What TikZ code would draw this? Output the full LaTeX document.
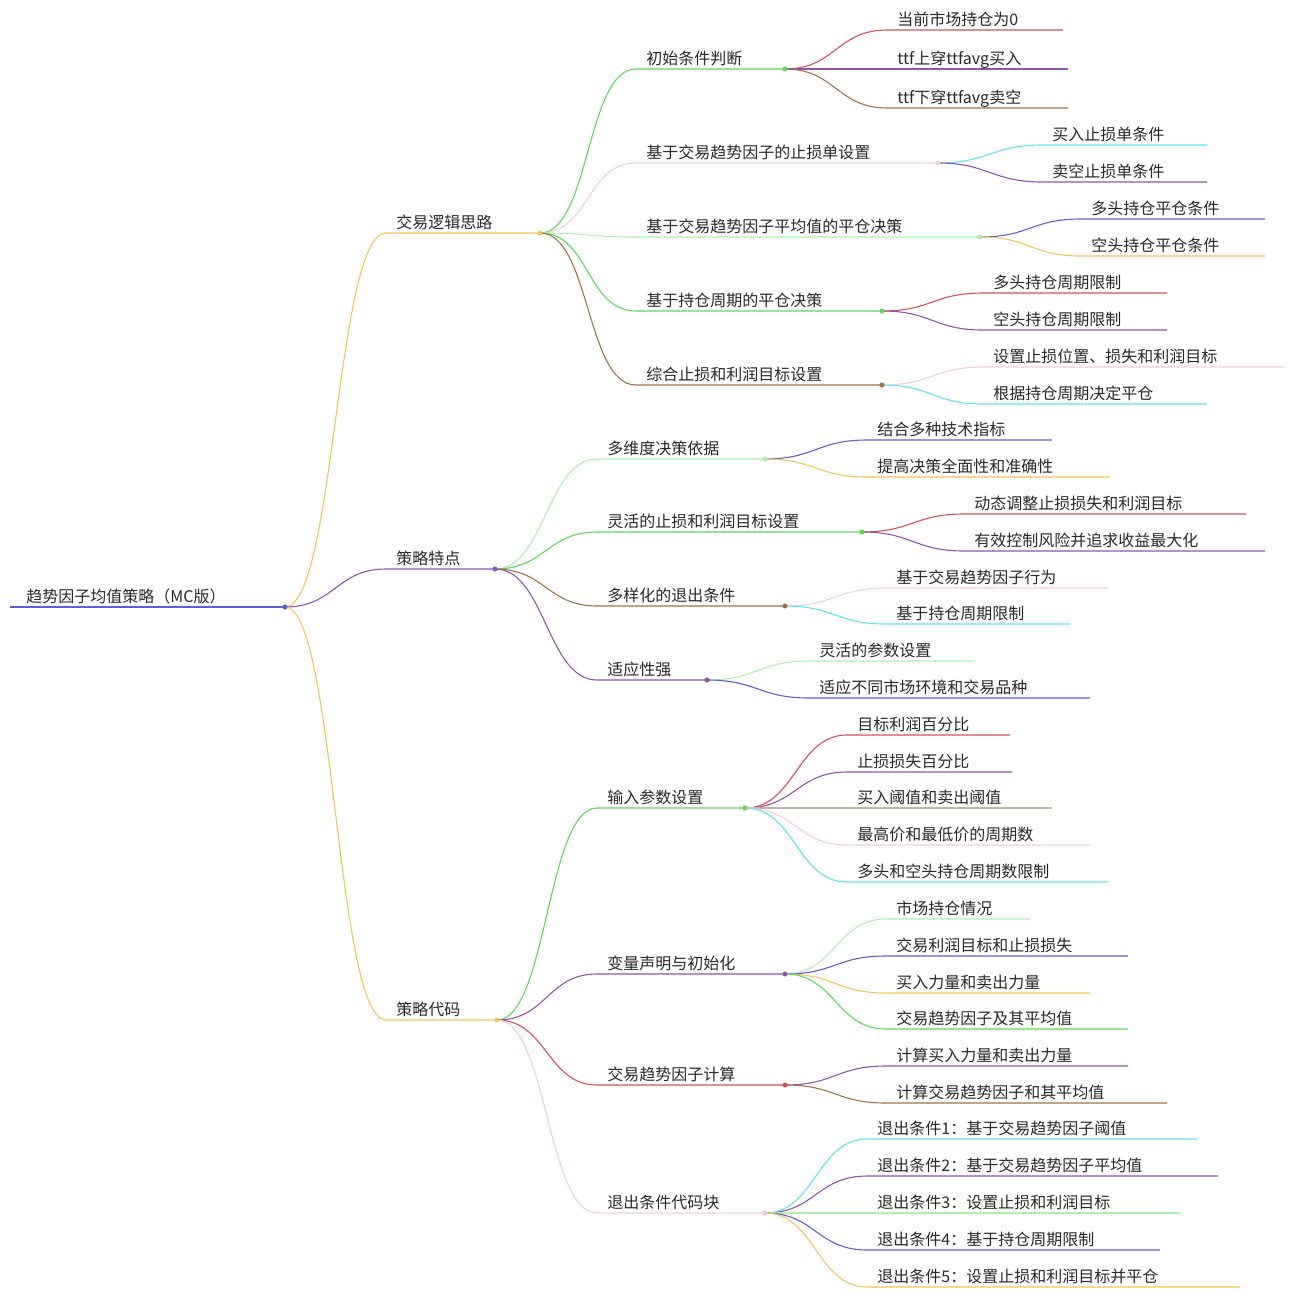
\documentclass[tikz,border=0pt]{standalone}
\usepackage{fontspec}
\setmainfont{Noto Sans CJK SC}
\usetikzlibrary{arrows.meta}

\definecolor{mmtextc}{RGB}{40,40,40}
\definecolor{mmblue}{RGB}{95,95,205}
\definecolor{mmorange}{RGB}{245,195,90}
\definecolor{mmpurple}{RGB}{145,85,175}
\definecolor{mmgreen}{RGB}{90,220,90}
\definecolor{mmpink}{RGB}{245,205,220}
\definecolor{mmlgreen}{RGB}{175,240,175}
\definecolor{mmbrown}{RGB}{165,115,65}
\definecolor{mmtan}{RGB}{200,180,160}
\definecolor{mmred}{RGB}{215,80,90}
\definecolor{mmcyan}{RGB}{90,230,240}

\tikzset{mmtext/.style = {anchor = base west, inner sep = 0pt, text = mmtextc, font = \fontsize{8}{10}\selectfont}}
\tikzset{mmline/.style = {line width = 0.55pt}}
\tikzset{mmdot/.style = {fill = white, line width = 0.3pt}}

% name, parent, text x, line y, line end x, colour, label
\newcommand{\mmitem}[7]{%
  \coordinate (#1s) at ({#3-10},#4);
  \coordinate (#1e) at (#5,#4);
  \node[mmtext] (#1) at (#3,{#4-5}) {#7};
  \draw[mmline,#6] (#2e) .. controls +(50,0) and +(-50,0) .. (#1s) -- (#1e);
}

\begin{document}
\begin{tikzpicture}[x = 0.5pt, y = -0.5pt]
  \useasboundingbox (0,0) rectangle (1296,1296);

  % root
  \coordinate (roots) at (10,607);
  \coordinate (roote) at (285,607);
  \node[mmtext] (root) at (26,602) {趋势因子均值策略（MC版）};
  \draw[mmline,mmblue] (roots) -- (roote);

  % level 1
  \mmitem{a}{root}{396}{233}{540}{mmorange}{交易逻辑思路}
  \mmitem{b}{root}{396}{569}{495}{mmpurple}{策略特点}
  \mmitem{c}{root}{396}{1020}{497}{mmorange}{策略代码}

  % 交易逻辑思路
  \mmitem{a1}{a}{646}{69}{785}{mmgreen}{初始条件判断}
  \mmitem{a2}{a}{646}{163}{938}{mmpink}{基于交易趋势因子的止损单设置}
  \mmitem{a3}{a}{646}{237}{980}{mmlgreen}{基于交易趋势因子平均值的平仓决策}
  \mmitem{a4}{a}{646}{311}{882}{mmgreen}{基于持仓周期的平仓决策}
  \mmitem{a5}{a}{646}{385}{882}{mmbrown}{综合止损和利润目标设置}

  \mmitem{a11}{a1}{897}{30}{1063}{mmred}{当前市场持仓为0}
  \mmitem{a12}{a1}{897}{69}{1068}{mmpurple}{ttf上穿ttfavg买入}
  \mmitem{a13}{a1}{897}{108}{1068}{mmbrown}{ttf下穿ttfavg卖空}
  \mmitem{a21}{a2}{1052}{145}{1207}{mmcyan}{买入止损单条件}
  \mmitem{a22}{a2}{1052}{182}{1207}{mmpurple}{卖空止损单条件}
  \mmitem{a31}{a3}{1091}{219}{1265}{mmblue}{多头持仓平仓条件}
  \mmitem{a32}{a3}{1091}{256}{1265}{mmorange}{空头持仓平仓条件}
  \mmitem{a41}{a4}{993}{293}{1167}{mmred}{多头持仓周期限制}
  \mmitem{a42}{a4}{993}{330}{1167}{mmpurple}{空头持仓周期限制}
  \mmitem{a51}{a5}{993}{367}{1285}{mmpink}{设置止损位置、损失和利润目标}
  \mmitem{a52}{a5}{993}{404}{1207}{mmcyan}{根据持仓周期决定平仓}

  % 策略特点
  \mmitem{b1}{b}{607}{459}{765}{mmlgreen}{多维度决策依据}
  \mmitem{b2}{b}{607}{532}{862}{mmgreen}{灵活的止损和利润目标设置}
  \mmitem{b3}{b}{607}{606}{785}{mmbrown}{多样化的退出条件}
  \mmitem{b4}{b}{607}{680}{707}{mmpurple}{适应性强}

  \mmitem{b11}{b1}{877}{440}{1052}{mmblue}{结合多种技术指标}
  \mmitem{b12}{b1}{877}{477}{1110}{mmorange}{提高决策全面性和准确性}
  \mmitem{b21}{b2}{974}{514}{1246}{mmred}{动态调整止损损失和利润目标}
  \mmitem{b22}{b2}{974}{551}{1265}{mmpurple}{有效控制风险并追求收益最大化}
  \mmitem{b31}{b3}{896}{588}{1108}{mmpink}{基于交易趋势因子行为}
  \mmitem{b32}{b3}{896}{624}{1070}{mmcyan}{基于持仓周期限制}
  \mmitem{b41}{b4}{819}{661}{975}{mmlgreen}{灵活的参数设置}
  \mmitem{b42}{b4}{819}{698}{1090}{mmblue}{适应不同市场环境和交易品种}

  % 策略代码
  \mmitem{c1}{c}{607}{808}{745}{mmgreen}{输入参数设置}
  \mmitem{c2}{c}{607}{974}{785}{mmpurple}{变量声明与初始化}
  \mmitem{c3}{c}{607}{1085}{785}{mmred}{交易趋势因子计算}
  \mmitem{c4}{c}{607}{1213}{765}{mmpink}{退出条件代码块}

  \mmitem{c11}{c1}{857}{735}{1010}{mmred}{目标利润百分比}
  \mmitem{c12}{c1}{857}{772}{1012}{mmpurple}{止损损失百分比}
  \mmitem{c13}{c1}{857}{808}{1052}{mmtan}{买入阈值和卖出阈值}
  \mmitem{c14}{c1}{857}{845}{1090}{mmpink}{最高价和最低价的周期数}
  \mmitem{c15}{c1}{857}{882}{1108}{mmcyan}{多头和空头持仓周期数限制}
  \mmitem{c21}{c2}{896}{919}{1030}{mmlgreen}{市场持仓情况}
  \mmitem{c22}{c2}{896}{956}{1128}{mmblue}{交易利润目标和止损损失}
  \mmitem{c23}{c2}{896}{993}{1090}{mmorange}{买入力量和卖出力量}
  \mmitem{c24}{c2}{896}{1029}{1128}{mmgreen}{交易趋势因子及其平均值}
  \mmitem{c31}{c3}{896}{1066}{1128}{mmpurple}{计算买入力量和卖出力量}
  \mmitem{c32}{c3}{896}{1103}{1167}{mmbrown}{计算交易趋势因子和其平均值}
  \mmitem{c41}{c4}{877}{1139}{1197}{mmcyan}{退出条件1：基于交易趋势因子阈值}
  \mmitem{c42}{c4}{877}{1176}{1218}{mmpurple}{退出条件2：基于交易趋势因子平均值}
  \mmitem{c43}{c4}{877}{1213}{1180}{mmlgreen}{退出条件3：设置止损和利润目标}
  \mmitem{c44}{c4}{877}{1250}{1160}{mmblue}{退出条件4：基于持仓周期限制}
  \mmitem{c45}{c4}{877}{1287}{1240}{mmorange}{退出条件5：设置止损和利润目标并平仓}

  % small rings at the branch points
  \draw[mmdot,mmblue] (roote) circle[radius = 1.1pt];
  \draw[mmdot,mmorange] (ae) circle[radius = 1.1pt];
  \draw[mmdot,mmpurple] (be) circle[radius = 1.1pt];
  \draw[mmdot,mmorange] (ce) circle[radius = 1.1pt];
  \draw[mmdot,mmgreen] (a1e) circle[radius = 1.1pt];
  \draw[mmdot,mmpink] (a2e) circle[radius = 1.1pt];
  \draw[mmdot,mmlgreen] (a3e) circle[radius = 1.1pt];
  \draw[mmdot,mmgreen] (a4e) circle[radius = 1.1pt];
  \draw[mmdot,mmbrown] (a5e) circle[radius = 1.1pt];
  \draw[mmdot,mmlgreen] (b1e) circle[radius = 1.1pt];
  \draw[mmdot,mmgreen] (b2e) circle[radius = 1.1pt];
  \draw[mmdot,mmbrown] (b3e) circle[radius = 1.1pt];
  \draw[mmdot,mmpurple] (b4e) circle[radius = 1.1pt];
  \draw[mmdot,mmgreen] (c1e) circle[radius = 1.1pt];
  \draw[mmdot,mmpurple] (c2e) circle[radius = 1.1pt];
  \draw[mmdot,mmred] (c3e) circle[radius = 1.1pt];
  \draw[mmdot,mmpink] (c4e) circle[radius = 1.1pt];
\end{tikzpicture}
\end{document}
